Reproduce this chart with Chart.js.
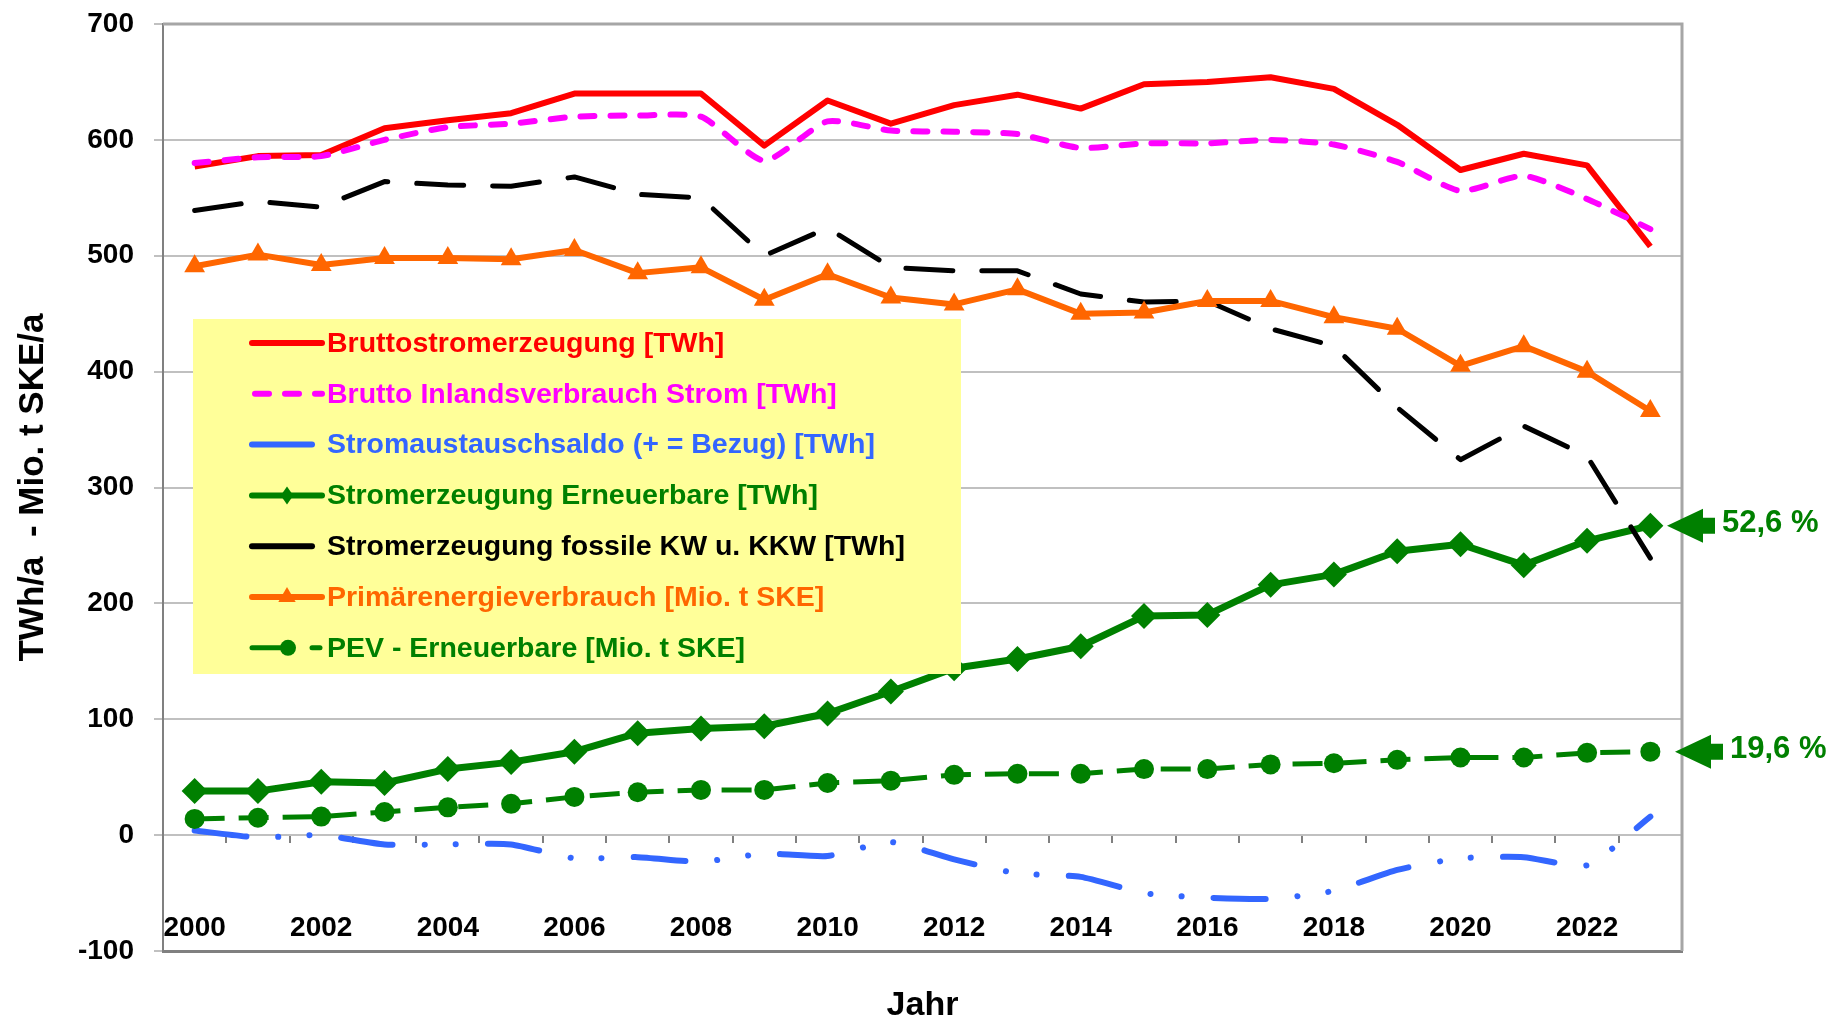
<!DOCTYPE html>
<html>
<head>
<meta charset="utf-8">
<script src="https://cdn.jsdelivr.net/npm/chart.js@4.4.1/dist/chart.umd.min.js"></script>
<style>
	html, body { margin: 0; padding: 0; background: #fff; }
</style>
</head>
<body>
<canvas id="myChart" width="1838" height="1023"></canvas>
<script>
	// --- Data ---
	var years = ['2000', '2001', '2002', '2003', '2004', '2005', '2006', '2007', '2008', '2009', '2010', '2011',
		'2012', '2013', '2014', '2015', '2016', '2017', '2018', '2019', '2020', '2021', '2022', '2023'];

	var bruttoErzeugung = [577, 586, 587, 610, 617, 623, 640, 640, 640, 595, 634, 614, 630, 639, 627, 648, 650, 654, 644, 613, 574, 588, 578, 508];
	var inlandsVerbrauch = [580, 585, 586, 600, 611, 614, 620, 621, 620, 582, 616, 608, 607, 605, 593, 597, 597, 600, 596, 581, 556, 569, 549, 523];
	var austauschSaldo = [4, -2, 0, -8, -8, -8, -20, -19, -23, -16, -18, -6, -21, -33, -36, -50, -54, -55, -48, -30, -20, -19, -26, 16];
	var ernErzeugung = [38, 38, 46, 45, 57, 63, 72, 88, 92, 94, 105, 124, 144, 152, 163, 189, 190, 216, 225, 245, 251, 233, 254, 267];
	var fossilErzeugung = [539, 547, 542, 564, 561, 560, 568, 553, 550, 500, 524, 490, 487, 487, 467, 460, 461, 437, 422, 369, 324, 353, 327, 239];
	var primaerVerbrauch = [491, 501, 492, 498, 498, 497, 505, 485, 490, 462, 484, 464, 458, 471, 450, 451, 461, 461, 447, 437, 405, 422, 400, 366];
	var pevErneuerbare = [14, 15, 16, 20, 24, 27, 33, 37, 39, 39, 45, 47, 52, 53, 53, 57, 57, 61, 62, 65, 67, 67, 71, 72];

	var yMin = -100;
	var yMax = 700;
	var yStep = 100;

	var anteilLabels = ['52,6 %', '19,6 %'];

	var FONT = '"Liberation Sans", Arial, sans-serif';
	var GREEN = '#008000';

	// --- Legend (yellow box inside the plot) ---
	function sampleLine(ctx, x1, x2, y, color, w, dash) {
		ctx.beginPath();
		ctx.setLineDash(dash || []);
		ctx.lineCap = 'round';
		ctx.strokeStyle = color;
		ctx.lineWidth = w;
		ctx.moveTo(x1, y);
		ctx.lineTo(x2, y);
		ctx.stroke();
		ctx.setLineDash([]);
	}

	function marker(ctx, type, x, y, r, color) {
		ctx.fillStyle = color;
		ctx.beginPath();
		if (type == 'triangle') {
			ctx.moveTo(x, y - r);
			ctx.lineTo(x + r * 0.87, y + r * 0.5);
			ctx.lineTo(x - r * 0.87, y + r * 0.5);
		} else if (type == 'diamond') {
			ctx.moveTo(x, y - r);
			ctx.lineTo(x + r * 0.7, y);
			ctx.lineTo(x, y + r);
			ctx.lineTo(x - r * 0.7, y);
		} else {
			ctx.arc(x, y, r, 0, Math.PI * 2);
		}
		ctx.closePath();
		ctx.fill();
	}

	var legendPlugin = {
		id: 'boxLegend',
		afterDatasetsDraw: function(chart) {
			var ctx = chart.ctx;
			var a = chart.chartArea;
			var bx = a.left + 30, by = 319, bw = 768, bh = 355;
			ctx.save();
			ctx.fillStyle = '#ffff99';
			ctx.fillRect(bx, by, bw, bh);
			ctx.font = 'bold 28.5px ' + FONT;
			ctx.textBaseline = 'middle';
			ctx.textAlign = 'left';
			var x0 = bx + 59;
			chart.data.datasets.forEach(function(ds, i) {
				var y = by + 24 + i * 50.8;
				var c = ds.borderColor;
				if (i == 0) sampleLine(ctx, x0, x0 + 70, y, c, 6);
				if (i == 1) sampleLine(ctx, x0 + 3, x0 + 70, y, c, 6, [14, 16]);
				if (i == 2 || i == 4) sampleLine(ctx, x0, x0 + 60, y, c, 6);
				if (i == 3) { sampleLine(ctx, x0, x0 + 70, y, c, 6); marker(ctx, 'diamond', x0 + 35, y, 9, c); }
				if (i == 5) { sampleLine(ctx, x0, x0 + 70, y, c, 6); marker(ctx, 'triangle', x0 + 35, y, 10, c); }
				if (i == 6) {
					sampleLine(ctx, x0, x0 + 28, y, c, 5);
					marker(ctx, 'circle', x0 + 36, y, 8, c);
					sampleLine(ctx, x0 + 60, x0 + 68, y, c, 5);
				}
				ctx.fillStyle = c;
				ctx.fillText(ds.label, x0 + 75, y + 1);
			});
			ctx.restore();
		}
	};

	// --- Plot frame + share arrows ---
	var framePlugin = {
		id: 'frame',
		beforeDatasetsDraw: function(chart) {
			var ctx = chart.ctx;
			var a = chart.chartArea;
			ctx.save();
			ctx.strokeStyle = '#a6a6a6';
			ctx.lineWidth = 3;
			ctx.beginPath();
			ctx.moveTo(a.left, a.top);
			ctx.lineTo(a.right, a.top);
			ctx.lineTo(a.right, a.bottom);
			ctx.stroke();
			ctx.restore();
		},
		afterDraw: function(chart) {
			var ctx = chart.ctx;
			var ys = chart.scales.y;
			var right = chart.chartArea.right;
			var arrows = [
				{ value: ernErzeugung[ernErzeugung.length - 1], text: anteilLabels[0], tip: right - 15 },
				{ value: pevErneuerbare[pevErneuerbare.length - 1], text: anteilLabels[1], tip: right - 7 }
			];
			ctx.save();
			ctx.fillStyle = GREEN;
			ctx.font = 'bold 31px ' + FONT;
			ctx.textBaseline = 'middle';
			arrows.forEach(function(ar) {
				var y = ys.getPixelForValue(ar.value);
				var t = ar.tip;
				ctx.beginPath();
				ctx.moveTo(t, y);
				ctx.lineTo(t + 36, y - 17);
				ctx.lineTo(t + 36, y - 8);
				ctx.lineTo(t + 48, y - 8);
				ctx.lineTo(t + 48, y + 8);
				ctx.lineTo(t + 36, y + 8);
				ctx.lineTo(t + 36, y + 17);
				ctx.closePath();
				ctx.fill();
				ctx.fillText(ar.text, t + 55, y - 2);
			});
			ctx.restore();
		}
	};

	// --- Chart ---
	var data = {
		labels: years,
		datasets: [{
			label: 'Bruttostromerzeugung [TWh]',
			data: bruttoErzeugung,
			borderColor: '#ff0000',
			borderWidth: 6,
			pointRadius: 0,
			order: 7
		}, {
			label: 'Brutto Inlandsverbrauch Strom [TWh]',
			data: inlandsVerbrauch,
			borderColor: '#ff00ff',
			borderWidth: 6,
			borderDash: [14, 16],
			borderCapStyle: 'round',
			tension: 0.2,
			pointRadius: 0,
			order: 6
		}, {
			label: 'Stromaustauschsaldo (+ = Bezug) [TWh]',
			data: austauschSaldo,
			borderColor: '#3366ff',
			borderWidth: 6,
			borderDash: [52, 32, 0.1, 31, 0.1, 32],
			borderCapStyle: 'round',
			tension: 0.2,
			pointRadius: 0,
			order: 5
		}, {
			label: 'Stromerzeugung Erneuerbare [TWh]',
			data: ernErzeugung,
			borderColor: GREEN,
			backgroundColor: GREEN,
			borderWidth: 7,
			pointStyle: 'rectRot',
			pointRadius: 13,
			pointBorderWidth: 0,
			order: 4
		}, {
			label: 'Stromerzeugung fossile KW u. KKW [TWh]',
			data: fossilErzeugung,
			borderColor: '#000000',
			borderWidth: 5,
			borderDash: [47, 29],
			borderCapStyle: 'round',
			pointRadius: 0,
			order: 3
		}, {
			label: 'Primärenergieverbrauch [Mio. t SKE]',
			data: primaerVerbrauch,
			borderColor: '#ff6600',
			backgroundColor: '#ff6600',
			borderWidth: 6,
			pointStyle: 'triangle',
			pointRadius: 12,
			pointBorderWidth: 0,
			order: 2
		}, {
			label: 'PEV - Erneuerbare [Mio. t SKE]',
			data: pevErneuerbare,
			borderColor: GREEN,
			backgroundColor: GREEN,
			borderWidth: 5,
			borderDash: [30, 14],
			pointStyle: 'circle',
			pointRadius: 10,
			pointBorderWidth: 0,
			order: 1
		}]
	};

	var config = {
		type: 'line',
		data: data,
		plugins: [framePlugin, legendPlugin],
		options: {
			responsive: false,
			animation: false,
			devicePixelRatio: 1,
			layout: { padding: { top: 24, right: 156, bottom: 0, left: 0 } },
			elements: { line: { borderJoinStyle: 'round' } },
			plugins: {
				legend: { display: false },
				tooltip: { enabled: false }
			},
			scales: {
				x: {
					type: 'category',
					offset: true,
					grid: { display: false, drawTicks: false },
					border: { display: true, color: '#808080', width: 3 },
					ticks: {
						autoSkip: false,
						maxRotation: 0,
						minRotation: 0,
						// mirrored labels sit inside the plot, just above the bottom frame
						mirror: true,
						padding: 6,
						color: '#000',
						font: { family: FONT, size: 28, weight: 'bold' },
						callback: function(v, i) {
							return i % 2 == 0 ? this.getLabelForValue(v) : '';
						}
					},
					title: {
						display: true,
						text: 'Jahr',
						color: '#000',
						font: { family: FONT, size: 34, weight: 'bold', lineHeight: 1 },
						padding: { top: 0, bottom: 0 }
					},
					afterFit: function(s) {
						s.height = 72;
						s.paddingLeft = 0;
						s.paddingRight = 0;
					}
				},
				x0: {
					type: 'category',
					axis: 'x',
					position: { y: 0 },
					offset: true,
					grid: { display: true, drawOnChartArea: false, drawTicks: true, tickLength: 8, offset: true, color: '#808080', lineWidth: 2 },
					border: { display: false },
					ticks: { display: false }
				},
				y: {
					min: yMin,
					max: yMax,
					ticks: {
						stepSize: yStep,
						padding: 20,
						color: '#000',
						font: { family: FONT, size: 28, weight: 'bold' }
					},
					grid: { color: '#c0c0c0', lineWidth: 2, tickLength: 9 },
					border: { color: '#808080', width: 2 },
					title: {
						display: true,
						text: 'TWh/a  - Mio. t SKE/a',
						color: '#000',
						font: { family: FONT, size: 35, weight: 'bold', lineHeight: 1 },
						padding: { top: 16, bottom: 0 }
					},
					afterFit: function(s) {
						s.width = 163;
						s.paddingTop = 0;
						s.paddingBottom = 0;
					}
				}
			}
		}
	};

	var myChart = new Chart(document.getElementById('myChart'), config);
</script>
</body>
</html>
